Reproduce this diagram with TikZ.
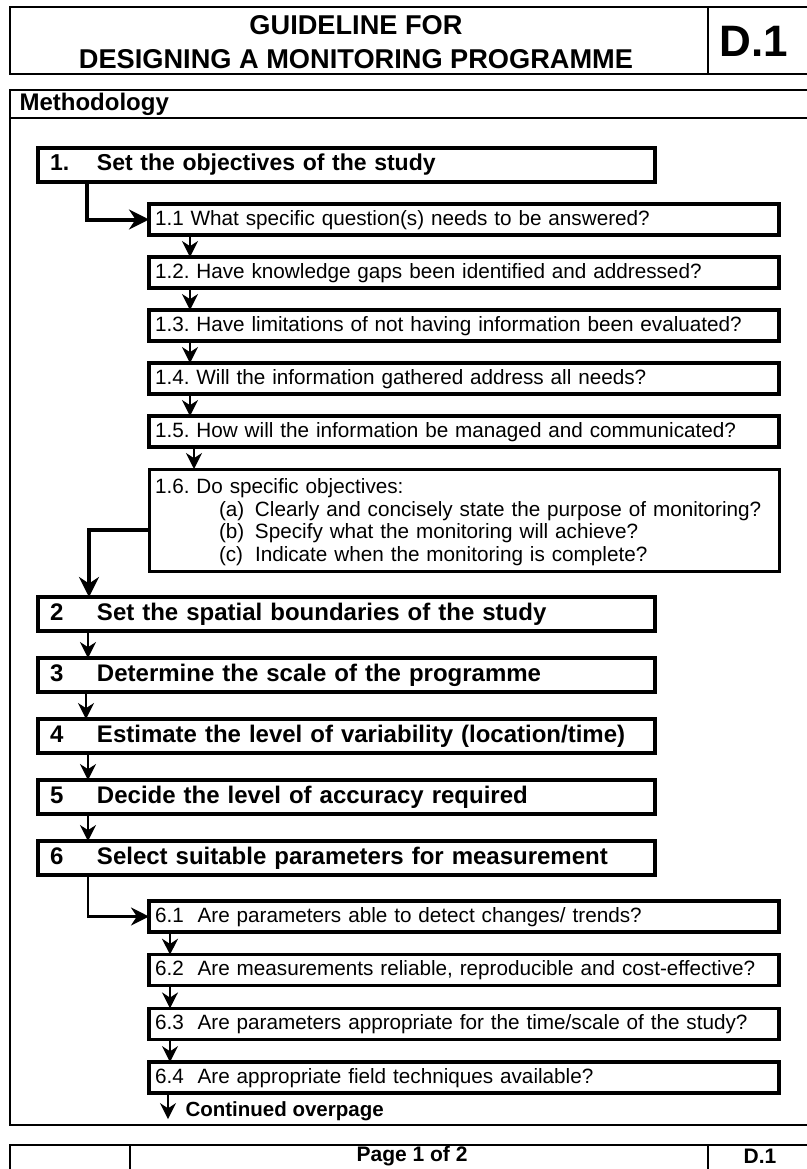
\documentclass[tikz,border=0pt]{standalone}
\usepackage{fontspec}
\setmainfont{Liberation Sans}
\usepackage{tikz}
\usetikzlibrary{arrows.meta,positioning}

\newcommand{\stepno}[1]{\makebox[47pt][l]{#1}}
\newcommand{\itemno}[1]{\hspace*{64pt}\makebox[36pt][l]{#1}}

\begin{document}
\frenchspacing
\hyphenpenalty=10000
\begin{tikzpicture}[
    x=1pt, y=-1pt,
    node distance=22pt,
    boxline/.style={draw=black, line width=2pt},
    thinline/.style={draw=black, line width=1.5pt},
    stepbox/.style={rectangle, draw=black, line width=4pt, outer sep=0pt, minimum width=617pt, minimum height=34pt, text width=593pt, inner xsep=12pt, inner ysep=0pt, text height=17pt, text depth=5pt, align=left, font=\fontsize{24}{26}\selectfont\bfseries},
    subbox/.style={rectangle, draw=black, line width=3.5pt, outer sep=0pt, minimum width=630pt, minimum height=31pt, text width=618pt, inner xsep=6pt, inner ysep=0pt, text height=16pt, text depth=4.5pt, align=left, font=\fontsize{20.7}{25}\selectfont},
    listbox/.style={rectangle, draw=black, line width=3pt, outer sep=0pt, minimum width=630pt, minimum height=102pt, text width=618pt, inner xsep=6pt, inner ysep=2pt, align=left, font=\fontsize{20.7}{22.7}\selectfont},
    heading/.style={font=\fontsize{24}{26}\selectfont\bfseries},
    bigarrow/.style={-{Stealth[length=20pt,width=20pt]}, line width=4pt},
    midarrow/.style={-{Stealth[length=18pt,width=18pt]}, line width=2.5pt},
    smallarrow/.style={-{Stealth[length=16pt,width=16pt]}, line width=2pt}
]
    \path [fill=white, use as bounding box] (0,0) rectangle (806,1169);

    \draw [boxline] (10,7) rectangle (810,74);
    \draw [boxline] (708,7) -- (708,74);
    \node [font=\fontsize{27.2}{34}\selectfont\bfseries, align=center] (title) at (356,42) {GUIDELINE FOR\\DESIGNING A MONITORING PROGRAMME};
    \node [font=\fontsize{44}{48}\selectfont\bfseries] (code) at (754,41) {D.1};

    \draw [boxline] (10,90) rectangle (810,1125);
    \draw [boxline] (10,118) -- (810,118);
    \node [heading, anchor=west] (method) at (16,104) {Methodology};

    \node [stepbox, anchor=north west, font=\fontsize{23}{26}\selectfont\bfseries] (s1) at (38,148) {\stepno{1.}Set the objectives of the study};
    \node [subbox, below right=22pt and 111pt of s1.south west] (n11) {1.1 What specific question(s) needs to be answered?};
    \node [subbox, below=of n11] (n12) {1.2. Have knowledge gaps been identified and addressed?};
    \node [subbox, below=of n12] (n13) {1.3. Have limitations of not having information been evaluated?};
    \node [subbox, below=of n13] (n14) {1.4. Will the information gathered address all needs?};
    \node [subbox, below=of n14] (n15) {1.5. How will the information be managed and communicated?};
    \node [listbox, below=of n15] (n16) {\rule{0pt}{19pt}1.6. Do specific objectives:\\
        \itemno{(a)}Clearly and concisely state the purpose of monitoring?\\
        \itemno{(b)}Specify what the monitoring will achieve?\\
        \itemno{(c)}Indicate when the monitoring is complete?};

    \node [stepbox, anchor=north west] (s2) at (38,597) {\stepno{2}Set the spatial boundaries of the study};
    \node [stepbox, below=27pt of s2] (s3) {\stepno{3}Determine the scale of the programme};
    \node [stepbox, below=27pt of s3] (s4) {\stepno{4}Estimate the level of variability (location/time)};
    \node [stepbox, below=27pt of s4] (s5) {\stepno{5}Decide the level of accuracy required};
    \node [stepbox, below=27pt of s5] (s6) {\stepno{6}Select suitable parameters for measurement};

    \node [subbox, below right=26pt and 111pt of s6.south west] (n61) {6.1\ \ Are parameters able to detect changes/ trends?};
    \node [subbox, below=22.7pt of n61] (n62) {6.2\ \ Are measurements reliable, reproducible and cost-effective?};
    \node [subbox, below=22.7pt of n62] (n63) {6.3\ \ Are parameters appropriate for the time/scale of the study?};
    \node [subbox, below=22.7pt of n63] (n64) {6.4\ \ Are appropriate field techniques available?};
    \coordinate [below right=26pt and 19pt of n64.south west] (contend);
    \node [anchor=west, font=\fontsize{20.5}{22}\selectfont\bfseries] (cont) at ([xshift=14pt,yshift=8pt]contend) {Continued overpage};

    \draw [bigarrow] ([xshift=49pt]s1.south west) |- (n11.west);
    \draw [smallarrow] ([xshift=41pt]n11.south west) -- ([xshift=41pt]n12.north west);
    \draw [smallarrow] ([xshift=41pt]n12.south west) -- ([xshift=41pt]n13.north west);
    \draw [smallarrow] ([xshift=41pt]n13.south west) -- ([xshift=41pt]n14.north west);
    \draw [smallarrow] ([xshift=41pt]n14.south west) -- ([xshift=41pt]n15.north west);
    \draw [smallarrow] ([xshift=45pt]n15.south west) -- ([xshift=45pt]n16.north west);
    \draw [bigarrow] ([yshift=-10pt]n16.west) -| ([xshift=51pt]s2.north west);
    \draw [smallarrow] ([xshift=50pt]s2.south west) -- ([xshift=50pt]s3.north west);
    \draw [smallarrow] ([xshift=48pt]s3.south west) -- ([xshift=48pt]s4.north west);
    \draw [smallarrow] ([xshift=50pt]s4.south west) -- ([xshift=50pt]s5.north west);
    \draw [smallarrow] ([xshift=50pt]s5.south west) -- ([xshift=50pt]s6.north west);
    \draw [midarrow] ([xshift=50pt]s6.south west) |- (n61.west);
    \draw [smallarrow] ([xshift=21pt]n61.south west) -- ([xshift=21pt]n62.north west);
    \draw [smallarrow] ([xshift=21pt]n62.south west) -- ([xshift=21pt]n63.north west);
    \draw [smallarrow] ([xshift=21pt]n63.south west) -- ([xshift=21pt]n64.north west);
    \draw [smallarrow] ([xshift=19pt]n64.south west) -- (contend);

    \draw [thinline] (10,1145) rectangle (810,1180);
    \draw [thinline] (130,1145) -- (130,1180);
    \draw [thinline] (708,1145) -- (708,1180);
    \node [font=\fontsize{21}{24}\selectfont\bfseries] (page) at (412,1156) {Page 1 of 2};
    \node [font=\fontsize{21}{24}\selectfont\bfseries] (pagecode) at (760,1156) {D.1};
\end{tikzpicture}
\end{document}
